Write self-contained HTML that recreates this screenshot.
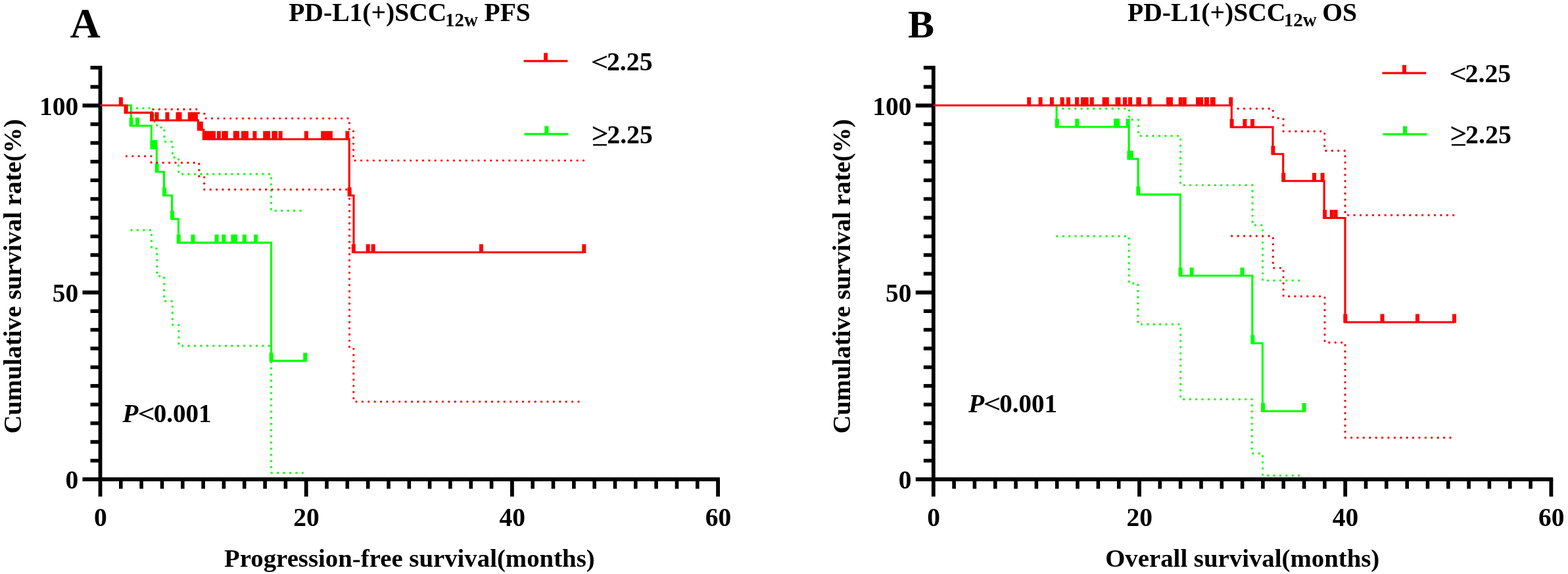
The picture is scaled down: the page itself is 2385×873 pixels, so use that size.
<!DOCTYPE html>
<html><head><meta charset="utf-8"><title>PD-L1(+)SCC12w survival curves</title>
<style>html,body{margin:0;padding:0;background:#fff;} svg{display:block;}</style>
</head><body>
<svg width="2385" height="873" viewBox="0 0 2385 873" font-family="'Liberation Serif', 'Times New Roman', serif">
<rect width="2385" height="873" fill="#fff"/>
<line x1="152.5" y1="100.1" x2="152.5" y2="755.3" stroke="#000" stroke-width="5.8"/>
<line x1="125.5" y1="729.0" x2="1094.9" y2="729.0" stroke="#000" stroke-width="6"/>
<line x1="137.5" y1="700.6" x2="152.5" y2="700.6" stroke="#000" stroke-width="5.6"/>
<line x1="137.5" y1="672.1" x2="152.5" y2="672.1" stroke="#000" stroke-width="5.6"/>
<line x1="137.5" y1="643.7" x2="152.5" y2="643.7" stroke="#000" stroke-width="5.6"/>
<line x1="137.5" y1="615.3" x2="152.5" y2="615.3" stroke="#000" stroke-width="5.6"/>
<line x1="137.5" y1="586.9" x2="152.5" y2="586.9" stroke="#000" stroke-width="5.6"/>
<line x1="137.5" y1="558.5" x2="152.5" y2="558.5" stroke="#000" stroke-width="5.6"/>
<line x1="137.5" y1="530" x2="152.5" y2="530" stroke="#000" stroke-width="5.6"/>
<line x1="137.5" y1="501.6" x2="152.5" y2="501.6" stroke="#000" stroke-width="5.6"/>
<line x1="137.5" y1="473.2" x2="152.5" y2="473.2" stroke="#000" stroke-width="5.6"/>
<line x1="125.5" y1="444.8" x2="152.5" y2="444.8" stroke="#000" stroke-width="6"/>
<line x1="137.5" y1="416.3" x2="152.5" y2="416.3" stroke="#000" stroke-width="5.6"/>
<line x1="137.5" y1="387.9" x2="152.5" y2="387.9" stroke="#000" stroke-width="5.6"/>
<line x1="137.5" y1="359.5" x2="152.5" y2="359.5" stroke="#000" stroke-width="5.6"/>
<line x1="137.5" y1="331.1" x2="152.5" y2="331.1" stroke="#000" stroke-width="5.6"/>
<line x1="137.5" y1="302.6" x2="152.5" y2="302.6" stroke="#000" stroke-width="5.6"/>
<line x1="137.5" y1="274.2" x2="152.5" y2="274.2" stroke="#000" stroke-width="5.6"/>
<line x1="137.5" y1="245.8" x2="152.5" y2="245.8" stroke="#000" stroke-width="5.6"/>
<line x1="137.5" y1="217.4" x2="152.5" y2="217.4" stroke="#000" stroke-width="5.6"/>
<line x1="137.5" y1="188.9" x2="152.5" y2="188.9" stroke="#000" stroke-width="5.6"/>
<line x1="125.5" y1="160.5" x2="152.5" y2="160.5" stroke="#000" stroke-width="6"/>
<line x1="137.5" y1="132.1" x2="152.5" y2="132.1" stroke="#000" stroke-width="5.6"/>
<line x1="137.5" y1="102.9" x2="152.5" y2="102.9" stroke="#000" stroke-width="5.6"/>
<line x1="183.8" y1="729.0" x2="183.8" y2="743.4" stroke="#000" stroke-width="5.6"/>
<line x1="215.1" y1="729.0" x2="215.1" y2="743.4" stroke="#000" stroke-width="5.6"/>
<line x1="246.5" y1="729.0" x2="246.5" y2="743.4" stroke="#000" stroke-width="5.6"/>
<line x1="277.8" y1="729.0" x2="277.8" y2="743.4" stroke="#000" stroke-width="5.6"/>
<line x1="309.1" y1="729.0" x2="309.1" y2="743.4" stroke="#000" stroke-width="5.6"/>
<line x1="340.4" y1="729.0" x2="340.4" y2="743.4" stroke="#000" stroke-width="5.6"/>
<line x1="371.7" y1="729.0" x2="371.7" y2="743.4" stroke="#000" stroke-width="5.6"/>
<line x1="403.1" y1="729.0" x2="403.1" y2="743.4" stroke="#000" stroke-width="5.6"/>
<line x1="434.4" y1="729.0" x2="434.4" y2="743.4" stroke="#000" stroke-width="5.6"/>
<line x1="465.7" y1="729.0" x2="465.7" y2="755.3" stroke="#000" stroke-width="5.8"/>
<line x1="497" y1="729.0" x2="497" y2="743.4" stroke="#000" stroke-width="5.6"/>
<line x1="528.3" y1="729.0" x2="528.3" y2="743.4" stroke="#000" stroke-width="5.6"/>
<line x1="559.7" y1="729.0" x2="559.7" y2="743.4" stroke="#000" stroke-width="5.6"/>
<line x1="591" y1="729.0" x2="591" y2="743.4" stroke="#000" stroke-width="5.6"/>
<line x1="622.3" y1="729.0" x2="622.3" y2="743.4" stroke="#000" stroke-width="5.6"/>
<line x1="653.6" y1="729.0" x2="653.6" y2="743.4" stroke="#000" stroke-width="5.6"/>
<line x1="684.9" y1="729.0" x2="684.9" y2="743.4" stroke="#000" stroke-width="5.6"/>
<line x1="716.3" y1="729.0" x2="716.3" y2="743.4" stroke="#000" stroke-width="5.6"/>
<line x1="747.6" y1="729.0" x2="747.6" y2="743.4" stroke="#000" stroke-width="5.6"/>
<line x1="778.9" y1="729.0" x2="778.9" y2="755.3" stroke="#000" stroke-width="5.8"/>
<line x1="810.2" y1="729.0" x2="810.2" y2="743.4" stroke="#000" stroke-width="5.6"/>
<line x1="841.5" y1="729.0" x2="841.5" y2="743.4" stroke="#000" stroke-width="5.6"/>
<line x1="872.9" y1="729.0" x2="872.9" y2="743.4" stroke="#000" stroke-width="5.6"/>
<line x1="904.2" y1="729.0" x2="904.2" y2="743.4" stroke="#000" stroke-width="5.6"/>
<line x1="935.5" y1="729.0" x2="935.5" y2="743.4" stroke="#000" stroke-width="5.6"/>
<line x1="966.8" y1="729.0" x2="966.8" y2="743.4" stroke="#000" stroke-width="5.6"/>
<line x1="998.1" y1="729.0" x2="998.1" y2="743.4" stroke="#000" stroke-width="5.6"/>
<line x1="1029.5" y1="729.0" x2="1029.5" y2="743.4" stroke="#000" stroke-width="5.6"/>
<line x1="1060.8" y1="729.0" x2="1060.8" y2="743.4" stroke="#000" stroke-width="5.6"/>
<line x1="1092.1" y1="729.0" x2="1092.1" y2="755.3" stroke="#000" stroke-width="5.8"/>
<text x="119.3" y="174.5" font-size="39.5" font-weight="bold" text-anchor="end">100</text>
<text x="119.3" y="458.8" font-size="39.5" font-weight="bold" text-anchor="end">50</text>
<text x="119.3" y="743" font-size="39.5" font-weight="bold" text-anchor="end">0</text>
<text x="152.8" y="800" font-size="39.5" font-weight="bold" text-anchor="middle">0</text>
<text x="466" y="800" font-size="39.5" font-weight="bold" text-anchor="middle">20</text>
<text x="779.2" y="800" font-size="39.5" font-weight="bold" text-anchor="middle">40</text>
<text x="1092.4" y="800" font-size="39.5" font-weight="bold" text-anchor="middle">60</text>
<line x1="1419.8" y1="100.1" x2="1419.8" y2="755.3" stroke="#000" stroke-width="5.8"/>
<line x1="1392.8" y1="729.0" x2="2362.2" y2="729.0" stroke="#000" stroke-width="6"/>
<line x1="1404.8" y1="700.6" x2="1419.8" y2="700.6" stroke="#000" stroke-width="5.6"/>
<line x1="1404.8" y1="672.1" x2="1419.8" y2="672.1" stroke="#000" stroke-width="5.6"/>
<line x1="1404.8" y1="643.7" x2="1419.8" y2="643.7" stroke="#000" stroke-width="5.6"/>
<line x1="1404.8" y1="615.3" x2="1419.8" y2="615.3" stroke="#000" stroke-width="5.6"/>
<line x1="1404.8" y1="586.9" x2="1419.8" y2="586.9" stroke="#000" stroke-width="5.6"/>
<line x1="1404.8" y1="558.5" x2="1419.8" y2="558.5" stroke="#000" stroke-width="5.6"/>
<line x1="1404.8" y1="530" x2="1419.8" y2="530" stroke="#000" stroke-width="5.6"/>
<line x1="1404.8" y1="501.6" x2="1419.8" y2="501.6" stroke="#000" stroke-width="5.6"/>
<line x1="1404.8" y1="473.2" x2="1419.8" y2="473.2" stroke="#000" stroke-width="5.6"/>
<line x1="1392.8" y1="444.8" x2="1419.8" y2="444.8" stroke="#000" stroke-width="6"/>
<line x1="1404.8" y1="416.3" x2="1419.8" y2="416.3" stroke="#000" stroke-width="5.6"/>
<line x1="1404.8" y1="387.9" x2="1419.8" y2="387.9" stroke="#000" stroke-width="5.6"/>
<line x1="1404.8" y1="359.5" x2="1419.8" y2="359.5" stroke="#000" stroke-width="5.6"/>
<line x1="1404.8" y1="331.1" x2="1419.8" y2="331.1" stroke="#000" stroke-width="5.6"/>
<line x1="1404.8" y1="302.6" x2="1419.8" y2="302.6" stroke="#000" stroke-width="5.6"/>
<line x1="1404.8" y1="274.2" x2="1419.8" y2="274.2" stroke="#000" stroke-width="5.6"/>
<line x1="1404.8" y1="245.8" x2="1419.8" y2="245.8" stroke="#000" stroke-width="5.6"/>
<line x1="1404.8" y1="217.4" x2="1419.8" y2="217.4" stroke="#000" stroke-width="5.6"/>
<line x1="1404.8" y1="188.9" x2="1419.8" y2="188.9" stroke="#000" stroke-width="5.6"/>
<line x1="1392.8" y1="160.5" x2="1419.8" y2="160.5" stroke="#000" stroke-width="6"/>
<line x1="1404.8" y1="132.1" x2="1419.8" y2="132.1" stroke="#000" stroke-width="5.6"/>
<line x1="1404.8" y1="102.9" x2="1419.8" y2="102.9" stroke="#000" stroke-width="5.6"/>
<line x1="1451.1" y1="729.0" x2="1451.1" y2="743.4" stroke="#000" stroke-width="5.6"/>
<line x1="1482.4" y1="729.0" x2="1482.4" y2="743.4" stroke="#000" stroke-width="5.6"/>
<line x1="1513.8" y1="729.0" x2="1513.8" y2="743.4" stroke="#000" stroke-width="5.6"/>
<line x1="1545.1" y1="729.0" x2="1545.1" y2="743.4" stroke="#000" stroke-width="5.6"/>
<line x1="1576.4" y1="729.0" x2="1576.4" y2="743.4" stroke="#000" stroke-width="5.6"/>
<line x1="1607.7" y1="729.0" x2="1607.7" y2="743.4" stroke="#000" stroke-width="5.6"/>
<line x1="1639" y1="729.0" x2="1639" y2="743.4" stroke="#000" stroke-width="5.6"/>
<line x1="1670.4" y1="729.0" x2="1670.4" y2="743.4" stroke="#000" stroke-width="5.6"/>
<line x1="1701.7" y1="729.0" x2="1701.7" y2="743.4" stroke="#000" stroke-width="5.6"/>
<line x1="1733" y1="729.0" x2="1733" y2="755.3" stroke="#000" stroke-width="5.8"/>
<line x1="1764.3" y1="729.0" x2="1764.3" y2="743.4" stroke="#000" stroke-width="5.6"/>
<line x1="1795.6" y1="729.0" x2="1795.6" y2="743.4" stroke="#000" stroke-width="5.6"/>
<line x1="1827" y1="729.0" x2="1827" y2="743.4" stroke="#000" stroke-width="5.6"/>
<line x1="1858.3" y1="729.0" x2="1858.3" y2="743.4" stroke="#000" stroke-width="5.6"/>
<line x1="1889.6" y1="729.0" x2="1889.6" y2="743.4" stroke="#000" stroke-width="5.6"/>
<line x1="1920.9" y1="729.0" x2="1920.9" y2="743.4" stroke="#000" stroke-width="5.6"/>
<line x1="1952.2" y1="729.0" x2="1952.2" y2="743.4" stroke="#000" stroke-width="5.6"/>
<line x1="1983.6" y1="729.0" x2="1983.6" y2="743.4" stroke="#000" stroke-width="5.6"/>
<line x1="2014.9" y1="729.0" x2="2014.9" y2="743.4" stroke="#000" stroke-width="5.6"/>
<line x1="2046.2" y1="729.0" x2="2046.2" y2="755.3" stroke="#000" stroke-width="5.8"/>
<line x1="2077.5" y1="729.0" x2="2077.5" y2="743.4" stroke="#000" stroke-width="5.6"/>
<line x1="2108.8" y1="729.0" x2="2108.8" y2="743.4" stroke="#000" stroke-width="5.6"/>
<line x1="2140.2" y1="729.0" x2="2140.2" y2="743.4" stroke="#000" stroke-width="5.6"/>
<line x1="2171.5" y1="729.0" x2="2171.5" y2="743.4" stroke="#000" stroke-width="5.6"/>
<line x1="2202.8" y1="729.0" x2="2202.8" y2="743.4" stroke="#000" stroke-width="5.6"/>
<line x1="2234.1" y1="729.0" x2="2234.1" y2="743.4" stroke="#000" stroke-width="5.6"/>
<line x1="2265.4" y1="729.0" x2="2265.4" y2="743.4" stroke="#000" stroke-width="5.6"/>
<line x1="2296.8" y1="729.0" x2="2296.8" y2="743.4" stroke="#000" stroke-width="5.6"/>
<line x1="2328.1" y1="729.0" x2="2328.1" y2="743.4" stroke="#000" stroke-width="5.6"/>
<line x1="2359.4" y1="729.0" x2="2359.4" y2="755.3" stroke="#000" stroke-width="5.8"/>
<text x="1386.6" y="174.5" font-size="39.5" font-weight="bold" text-anchor="end">100</text>
<text x="1386.6" y="458.8" font-size="39.5" font-weight="bold" text-anchor="end">50</text>
<text x="1386.6" y="743" font-size="39.5" font-weight="bold" text-anchor="end">0</text>
<text x="1420.1" y="800" font-size="39.5" font-weight="bold" text-anchor="middle">0</text>
<text x="1733.3" y="800" font-size="39.5" font-weight="bold" text-anchor="middle">20</text>
<text x="2046.5" y="800" font-size="39.5" font-weight="bold" text-anchor="middle">40</text>
<text x="2359.7" y="800" font-size="39.5" font-weight="bold" text-anchor="middle">60</text>
<text y="31.8" font-size="39.6" font-weight="bold"><tspan x="439.2">PD-L1(+)SCC</tspan><tspan x="676.9" y="39.7" font-size="29">12w</tspan><tspan x="736.5" y="31.8">PFS</tspan></text>
<text y="31.9" font-size="39.6" font-weight="bold"><tspan x="1715.1">PD-L1(+)SCC</tspan><tspan x="1952.8" y="39.8" font-size="29">12w</tspan><tspan x="2011.2" y="31.9">OS</tspan></text>
<text x="106.4" y="57" font-size="64" font-weight="bold">A</text>
<text x="1381" y="56.6" font-size="60" font-weight="bold">B</text>
<text transform="translate(31.8 659.5) rotate(-90)" font-size="38.8" font-weight="bold">Cumulative survival rate(%)</text>
<text transform="translate(1292.5 659.5) rotate(-90)" font-size="38.8" font-weight="bold">Cumulative survival rate(%)</text>
<text x="341.1" y="861.6" font-size="38.8" font-weight="bold">Progression-free survival(months)</text>
<text x="1681.2" y="862" font-size="38.8" font-weight="bold">Overall survival(months)</text>
<text x="186.3" y="642.3" font-size="39.5" font-weight="bold" font-style="italic">P</text>
<text transform="translate(209.76 642.01) scale(1.122 0.952)" font-size="40" font-weight="normal" stroke="#000" stroke-width="0.7">&lt;</text>
<text x="233.7" y="642.3" font-size="39.1" font-weight="bold">0.001</text>
<text x="1472.9" y="627.1" font-size="39.5" font-weight="bold" font-style="italic">P</text>
<text transform="translate(1496.24 627.01) scale(1.128 0.952)" font-size="40" font-weight="normal" stroke="#000" stroke-width="0.7">&lt;</text>
<text x="1520.2" y="627.1" font-size="39.1" font-weight="bold">0.001</text>
<line x1="796.5" y1="92.8" x2="863.5" y2="92.8" stroke="#ff0000" stroke-width="3.2"/>
<rect x="827.1" y="80.5" width="6" height="12.3" fill="#ff0000"/>
<text transform="translate(899.02 106.67) scale(1.138 0.941)" font-size="40" font-weight="normal" stroke="#000" stroke-width="0.7">&lt;</text>
<text x="922.9" y="106.7" font-size="39.9" font-weight="bold">2.25</text>
<line x1="797.5" y1="203.9" x2="864.5" y2="203.9" stroke="#00ff00" stroke-width="3.2"/>
<rect x="828.3" y="191.6" width="6" height="12.3" fill="#00ff00"/>
<text transform="translate(899.88 217.39) scale(1.112 1.052)" font-size="40" font-weight="normal" stroke="#000" stroke-width="0.7">&gt;</text>
<rect x="902.1" y="219.2" width="20.9" height="2.4" fill="#000"/>
<text x="923.2" y="217.8" font-size="39.9" font-weight="bold">2.25</text>
<line x1="2102.4" y1="111.1" x2="2169.2" y2="111.1" stroke="#ff0000" stroke-width="3.2"/>
<rect x="2133" y="98.8" width="6" height="12.3" fill="#ff0000"/>
<text transform="translate(2204.74 124.97) scale(1.128 0.941)" font-size="40" font-weight="normal" stroke="#000" stroke-width="0.7">&lt;</text>
<text x="2228.5" y="124.7" font-size="39.9" font-weight="bold">2.25</text>
<line x1="2103.5" y1="204.2" x2="2170.1" y2="204.2" stroke="#00ff00" stroke-width="3.2"/>
<rect x="2134" y="191.9" width="6" height="12.3" fill="#00ff00"/>
<text transform="translate(2205.78 217.47) scale(1.112 1.047)" font-size="40" font-weight="normal" stroke="#000" stroke-width="0.7">&gt;</text>
<rect x="2208" y="219.2" width="20.9" height="2.4" fill="#000"/>
<text x="2229.1" y="217.6" font-size="39.9" font-weight="bold">2.25</text>
<path d="M199 164.6H231V172H235V186H238.7V192H245V195H249.9V215.5H262.3V239.5H271.6V264.7H412.4V320.4H457.1" fill="none" stroke="#00ff00" stroke-width="3.4" stroke-linecap="round" stroke-dasharray="0 9.406"/>
<path d="M200.1 350H230.4V378H238.8V420H249.7V458H262.2V494H271.8V526H412.5V719.2H460.3" fill="none" stroke="#00ff00" stroke-width="3.4" stroke-linecap="round" stroke-dasharray="0 9.393"/>
<path d="M1616.9 165.2H1717.4V182H1731.4V206.7H1795.5V281.6H1905V342.5H1920.6V426.6H1975.7" fill="none" stroke="#00ff00" stroke-width="3.4" stroke-linecap="round" stroke-dasharray="0 9.396"/>
<path d="M1608 359.2H1717.1V431H1730.9V493.3H1795.6V607.2H1904.1V689.7H1920.6V723.2H1975.6" fill="none" stroke="#00ff00" stroke-width="3.4" stroke-linecap="round" stroke-dasharray="0 9.379"/>
<path d="M186 160.3H199.3V191.2H230.3V225.5H238.3V261.2H249.4V297.3H261.5V333H271.4V369.1H412.5V548.9H464" fill="none" stroke="#00ff00" stroke-width="3.1" stroke-linejoin="miter"/>
<rect x="196.6" y="178.8" width="6" height="13.6" fill="#00ff00"/>
<rect x="205.9" y="178.8" width="6" height="13.6" fill="#00ff00"/>
<rect x="228.5" y="213.1" width="6" height="13.6" fill="#00ff00"/>
<rect x="233.5" y="213.1" width="6" height="13.6" fill="#00ff00"/>
<rect x="235.6" y="248.8" width="6" height="13.6" fill="#00ff00"/>
<rect x="247" y="284.9" width="6" height="13.6" fill="#00ff00"/>
<rect x="259" y="320.6" width="6" height="13.6" fill="#00ff00"/>
<rect x="268.7" y="356.7" width="6" height="13.6" fill="#00ff00"/>
<rect x="290.5" y="356.7" width="6" height="13.6" fill="#00ff00"/>
<rect x="326.6" y="356.7" width="6" height="13.6" fill="#00ff00"/>
<rect x="337.3" y="356.7" width="6" height="13.6" fill="#00ff00"/>
<rect x="351.4" y="356.7" width="6" height="13.6" fill="#00ff00"/>
<rect x="355" y="356.7" width="6" height="13.6" fill="#00ff00"/>
<rect x="368.7" y="356.7" width="6" height="13.6" fill="#00ff00"/>
<rect x="386" y="356.7" width="6" height="13.6" fill="#00ff00"/>
<rect x="409.6" y="536.5" width="6" height="13.6" fill="#00ff00"/>
<rect x="461.2" y="536.5" width="6" height="13.6" fill="#00ff00"/>
<path d="M1607.1 160.3V193H1717.1V241.7H1731.1V295.9H1795.3V419.3H1904.8V522H1920.4V625.4H1985.2" fill="none" stroke="#00ff00" stroke-width="3.1" stroke-linejoin="miter"/>
<rect x="1604.8" y="180.6" width="6" height="13.6" fill="#00ff00"/>
<rect x="1635.3" y="180.6" width="6" height="13.6" fill="#00ff00"/>
<rect x="1694" y="180.6" width="6" height="13.6" fill="#00ff00"/>
<rect x="1697" y="180.6" width="6" height="13.6" fill="#00ff00"/>
<rect x="1712.6" y="180.6" width="6" height="13.6" fill="#00ff00"/>
<rect x="1714.4" y="229.3" width="6" height="13.6" fill="#00ff00"/>
<rect x="1717.7" y="229.3" width="6" height="13.6" fill="#00ff00"/>
<rect x="1728.3" y="283.5" width="6" height="13.6" fill="#00ff00"/>
<rect x="1792.5" y="406.9" width="6" height="13.6" fill="#00ff00"/>
<rect x="1809.7" y="406.9" width="6" height="13.6" fill="#00ff00"/>
<rect x="1886.5" y="406.9" width="6" height="13.6" fill="#00ff00"/>
<rect x="1902.3" y="509.6" width="6" height="13.6" fill="#00ff00"/>
<rect x="1918" y="613" width="6" height="13.6" fill="#00ff00"/>
<rect x="1980.5" y="613" width="6" height="13.6" fill="#00ff00"/>
<path d="M233 166.3H301V172H310.8V180.1H531.4V197H537.5V244.1H887.6" fill="none" stroke="#ff0000" stroke-width="3.4" stroke-linecap="round" stroke-dasharray="0 9.389"/>
<path d="M192.4 237.6H230V247.5H302.8V268H310.6V288.2H531.5V529H537.8V610.9H880" fill="none" stroke="#ff0000" stroke-width="3.4" stroke-linecap="round" stroke-dasharray="0 9.388"/>
<path d="M1883.1 165.3H1936.3V179.7H1952V199.8H2014.7V229.2H2046V327.2H2210.8" fill="none" stroke="#ff0000" stroke-width="3.4" stroke-linecap="round" stroke-dasharray="0 9.414"/>
<path d="M1873.7 359H1936.3V407.6H1952.1V450.7H2015V521H2046V665.8H2206" fill="none" stroke="#ff0000" stroke-width="3.4" stroke-linecap="round" stroke-dasharray="0 9.398"/>
<path d="M152.5 160.3H190.3V171.4H230.6V183H301.3V197.2H309.8V211.7H531.2V297.3H538V383.8H888.3" fill="none" stroke="#ff0000" stroke-width="3.1" stroke-linejoin="miter"/>
<rect x="180.9" y="147.9" width="6" height="13.6" fill="#ff0000"/>
<rect x="188.7" y="159" width="6" height="13.6" fill="#ff0000"/>
<rect x="228" y="170.6" width="6" height="13.6" fill="#ff0000"/>
<rect x="235.5" y="170.6" width="6" height="13.6" fill="#ff0000"/>
<rect x="251.4" y="170.6" width="6" height="13.6" fill="#ff0000"/>
<rect x="267.5" y="170.6" width="6" height="13.6" fill="#ff0000"/>
<rect x="270.5" y="170.6" width="6" height="13.6" fill="#ff0000"/>
<rect x="285.8" y="170.6" width="6" height="13.6" fill="#ff0000"/>
<rect x="290.5" y="170.6" width="6" height="13.6" fill="#ff0000"/>
<rect x="295" y="170.6" width="6" height="13.6" fill="#ff0000"/>
<rect x="302.8" y="184.8" width="6" height="13.6" fill="#ff0000"/>
<rect x="307.7" y="199.3" width="6" height="13.6" fill="#ff0000"/>
<rect x="312" y="199.3" width="6" height="13.6" fill="#ff0000"/>
<rect x="317.5" y="199.3" width="6" height="13.6" fill="#ff0000"/>
<rect x="322" y="199.3" width="6" height="13.6" fill="#ff0000"/>
<rect x="329.9" y="199.3" width="6" height="13.6" fill="#ff0000"/>
<rect x="337.4" y="199.3" width="6" height="13.6" fill="#ff0000"/>
<rect x="340.8" y="199.3" width="6" height="13.6" fill="#ff0000"/>
<rect x="354.7" y="199.3" width="6" height="13.6" fill="#ff0000"/>
<rect x="357.8" y="199.3" width="6" height="13.6" fill="#ff0000"/>
<rect x="367" y="199.3" width="6" height="13.6" fill="#ff0000"/>
<rect x="371.9" y="199.3" width="6" height="13.6" fill="#ff0000"/>
<rect x="384.4" y="199.3" width="6" height="13.6" fill="#ff0000"/>
<rect x="400.2" y="199.3" width="6" height="13.6" fill="#ff0000"/>
<rect x="405" y="199.3" width="6" height="13.6" fill="#ff0000"/>
<rect x="413.4" y="199.3" width="6" height="13.6" fill="#ff0000"/>
<rect x="415.9" y="199.3" width="6" height="13.6" fill="#ff0000"/>
<rect x="423.6" y="199.3" width="6" height="13.6" fill="#ff0000"/>
<rect x="462.8" y="199.3" width="6" height="13.6" fill="#ff0000"/>
<rect x="488.2" y="199.3" width="6" height="13.6" fill="#ff0000"/>
<rect x="494" y="199.3" width="6" height="13.6" fill="#ff0000"/>
<rect x="499.9" y="199.3" width="6" height="13.6" fill="#ff0000"/>
<rect x="525.4" y="199.3" width="6" height="13.6" fill="#ff0000"/>
<rect x="528.6" y="284.9" width="6" height="13.6" fill="#ff0000"/>
<rect x="534.8" y="371.4" width="6" height="13.6" fill="#ff0000"/>
<rect x="556.7" y="371.4" width="6" height="13.6" fill="#ff0000"/>
<rect x="564.6" y="371.4" width="6" height="13.6" fill="#ff0000"/>
<rect x="729" y="371.4" width="6" height="13.6" fill="#ff0000"/>
<rect x="885.3" y="371.4" width="6" height="13.6" fill="#ff0000"/>
<path d="M1419.8 160.3H1873.3V193.4H1936V234.3H1951.7V275.3H2014.1V331.5H2046V490H2212" fill="none" stroke="#ff0000" stroke-width="3.1" stroke-linejoin="miter"/>
<rect x="1562.2" y="147.9" width="6" height="13.6" fill="#ff0000"/>
<rect x="1579.6" y="147.9" width="6" height="13.6" fill="#ff0000"/>
<rect x="1596.9" y="147.9" width="6" height="13.6" fill="#ff0000"/>
<rect x="1612.6" y="147.9" width="6" height="13.6" fill="#ff0000"/>
<rect x="1622" y="147.9" width="6" height="13.6" fill="#ff0000"/>
<rect x="1635.1" y="147.9" width="6" height="13.6" fill="#ff0000"/>
<rect x="1644" y="147.9" width="6" height="13.6" fill="#ff0000"/>
<rect x="1649.7" y="147.9" width="6" height="13.6" fill="#ff0000"/>
<rect x="1657.8" y="147.9" width="6" height="13.6" fill="#ff0000"/>
<rect x="1676.6" y="147.9" width="6" height="13.6" fill="#ff0000"/>
<rect x="1680.7" y="147.9" width="6" height="13.6" fill="#ff0000"/>
<rect x="1696.5" y="147.9" width="6" height="13.6" fill="#ff0000"/>
<rect x="1698.5" y="147.9" width="6" height="13.6" fill="#ff0000"/>
<rect x="1708" y="147.9" width="6" height="13.6" fill="#ff0000"/>
<rect x="1716" y="147.9" width="6" height="13.6" fill="#ff0000"/>
<rect x="1728.3" y="147.9" width="6" height="13.6" fill="#ff0000"/>
<rect x="1729.8" y="147.9" width="6" height="13.6" fill="#ff0000"/>
<rect x="1745.5" y="147.9" width="6" height="13.6" fill="#ff0000"/>
<rect x="1774" y="147.9" width="6" height="13.6" fill="#ff0000"/>
<rect x="1778" y="147.9" width="6" height="13.6" fill="#ff0000"/>
<rect x="1792.7" y="147.9" width="6" height="13.6" fill="#ff0000"/>
<rect x="1798.8" y="147.9" width="6" height="13.6" fill="#ff0000"/>
<rect x="1819" y="147.9" width="6" height="13.6" fill="#ff0000"/>
<rect x="1824" y="147.9" width="6" height="13.6" fill="#ff0000"/>
<rect x="1831.7" y="147.9" width="6" height="13.6" fill="#ff0000"/>
<rect x="1832.9" y="147.9" width="6" height="13.6" fill="#ff0000"/>
<rect x="1840.8" y="147.9" width="6" height="13.6" fill="#ff0000"/>
<rect x="1842.7" y="147.9" width="6" height="13.6" fill="#ff0000"/>
<rect x="1869.2" y="147.9" width="6" height="13.6" fill="#ff0000"/>
<rect x="1870.6" y="181" width="6" height="13.6" fill="#ff0000"/>
<rect x="1890.4" y="181" width="6" height="13.6" fill="#ff0000"/>
<rect x="1902" y="181" width="6" height="13.6" fill="#ff0000"/>
<rect x="1933.4" y="221.9" width="6" height="13.6" fill="#ff0000"/>
<rect x="1949.2" y="262.9" width="6" height="13.6" fill="#ff0000"/>
<rect x="1996" y="262.9" width="6" height="13.6" fill="#ff0000"/>
<rect x="2008.6" y="262.9" width="6" height="13.6" fill="#ff0000"/>
<rect x="2012" y="319.1" width="6" height="13.6" fill="#ff0000"/>
<rect x="2022.7" y="319.1" width="6" height="13.6" fill="#ff0000"/>
<rect x="2028.7" y="319.1" width="6" height="13.6" fill="#ff0000"/>
<rect x="2043.3" y="477.6" width="6" height="13.6" fill="#ff0000"/>
<rect x="2099.5" y="477.6" width="6" height="13.6" fill="#ff0000"/>
<rect x="2153" y="477.6" width="6" height="13.6" fill="#ff0000"/>
<rect x="2209" y="477.6" width="6" height="13.6" fill="#ff0000"/>
</svg>
</body></html>
